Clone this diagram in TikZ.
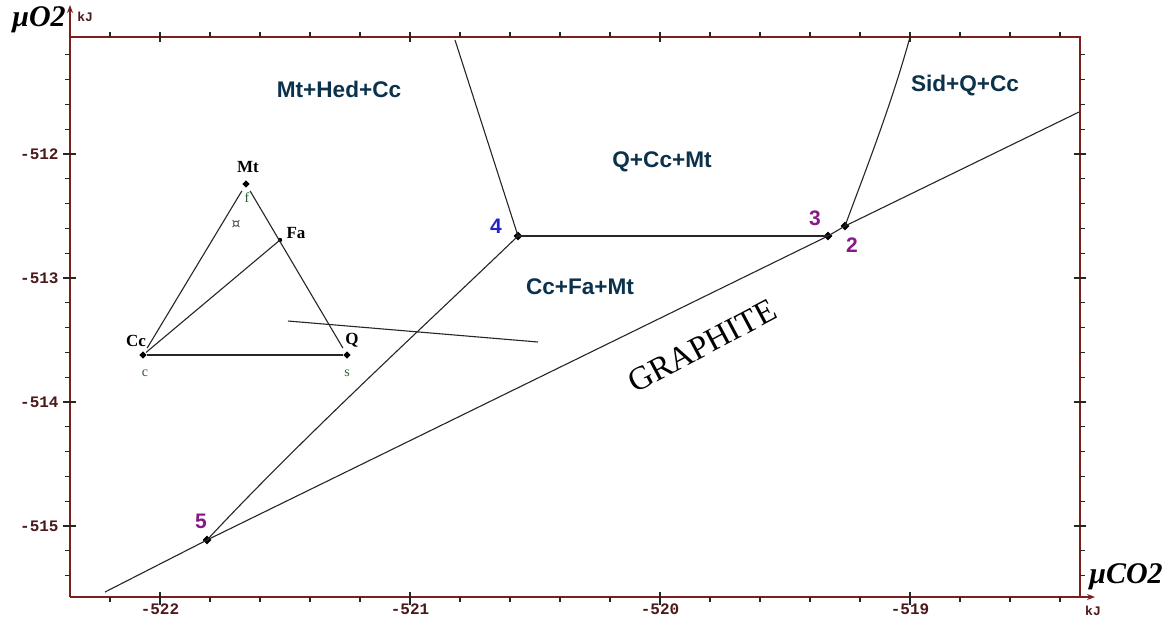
\documentclass[tikz,border=0pt]{standalone}
\usepackage{fontspec}
\setmainfont{Liberation Serif}
\setsansfont{Liberation Sans}
\setmonofont{Liberation Mono}
\newfontfamily\djv{DejaVu Sans}
\usetikzlibrary{shapes.geometric,arrows.meta}
\definecolor{axiscol}{RGB}{125,30,30}
\definecolor{ticklab}{RGB}{75,25,25}
\definecolor{regcol}{RGB}{12,50,75}
\definecolor{numpurple}{RGB}{135,25,135}
\definecolor{numblue}{RGB}{35,35,200}
\definecolor{vcol}{RGB}{40,95,50}
\tikzset{
  axisline/.style={draw=axiscol,line width=0.8pt},
  tickline/.style={draw=black!85,line width=0.6pt},
  ylab/.style={font=\ttfamily\bfseries\fontsize{8}{8}\selectfont,text=ticklab,anchor=east,inner sep=0pt},
  xlab/.style={font=\ttfamily\bfseries\fontsize{8}{8}\selectfont,text=ticklab,inner sep=0pt},
  unitlab/.style={font=\ttfamily\bfseries\fontsize{6.5}{6.5}\selectfont,text=ticklab,inner sep=0pt},
  axtitle/.style={font=\bfseries\itshape\fontsize{15}{15}\selectfont,inner sep=0pt},
  region/.style={font=\sffamily\bfseries\fontsize{11.3}{11.3}\selectfont,text=regcol,inner sep=0pt},
  ptnum/.style={font=\sffamily\bfseries\fontsize{10.5}{10.5}\selectfont,inner sep=0pt},
  phase/.style={draw=black!85,line width=0.55pt},
  pdot/.style={diamond,fill=black,inner sep=0pt,minimum size=4.5pt},
  idot/.style={diamond,fill=black,inner sep=0pt,minimum size=3.8pt},
  ilab/.style={font=\bfseries\fontsize{8.5}{8.5}\selectfont,inner sep=0pt},
  vlab/.style={font=\fontsize{7}{7}\selectfont,text=vcol,inner sep=0pt},
}
\begin{document}
\begin{tikzpicture}[x=0.5pt,y=-0.5pt]
\useasboundingbox (0,0) rectangle (1170,618);
\fill[white] (0,0) rectangle (1170,618);

% ---- axes frame
\draw[axisline,-{Stealth[length=4pt,width=3pt]}] (70,597) -- (1095,597);
\draw[axisline,-{Stealth[length=4pt,width=3pt]}] (70,597) -- (70,5);
\draw[axisline] (70,37) -- (1080,37) -- (1080,597);

% ---- ticks x
\foreach \x in {110,160,...,1060} {
  \draw[tickline] (\x,597) -- (\x,602);
  \draw[tickline] (\x,37) -- (\x,32);
}
\foreach \x in {160,410,660,910} {
  \draw[tickline,line width=0.9pt] (\x,592) -- (\x,605);
  \draw[tickline,line width=0.9pt] (\x,32) -- (\x,42);
}
% ---- ticks y
\foreach \k in {0,...,21} {
  \pgfmathsetmacro\yy{54.8+24.8*\k}
  \draw[tickline] (65,\yy) -- (70,\yy);
  \draw[tickline] (1080,\yy) -- (1085,\yy);
}
\foreach \yy in {154,278,402,526} {
  \draw[tickline,line width=0.9pt] (63,\yy) -- (76,\yy);
  \draw[tickline,line width=0.9pt] (1074,\yy) -- (1086,\yy);
}

% ---- tick labels
\node[ylab] (ly1) at (59,154) {-512};
\node[ylab] (ly2) at (59,278) {-513};
\node[ylab] (ly3) at (59,402) {-514};
\node[ylab] (ly4) at (59,526) {-515};
\node[xlab] (lx1) at (160,609) {-522};
\node[xlab] (lx2) at (410,609) {-521};
\node[xlab] (lx3) at (660,609) {-520};
\node[xlab] (lx4) at (910,609) {-519};
\node[unitlab,anchor=west] (kjy) at (77,17) {kJ};
\node[unitlab] (kjx) at (1093,611) {kJ};
\node[axtitle] (muo) at (39,20) {μO2};
\node[axtitle] (muco) at (1126,577) {μCO2};

% ---- invariant points
\node[pdot] (p5) at (207,540) {};
\node[pdot] (p4) at (518,236) {};
\node[pdot] (p3) at (828,236) {};
\node[pdot] (p2) at (845,226) {};
\coordinate (g1) at (105,592);
\coordinate (g2) at (1079,112);
\coordinate (t4) at (455,40);
\coordinate (t2) at (910,37);
\coordinate (s1) at (288,321);
\coordinate (s2) at (538,342);

% ---- phase lines
\draw[phase] (g1) -- (p5.center) -- (p3.center) -- (p2.center) -- (g2);
\draw[phase] (p5.center) .. controls (300,440) and (420,330) .. (p4.center);
\draw[phase] (p4.center) -- (p3.center);
\draw[phase] (p4.center) -- (t4);
\draw[phase] (p2.center) .. controls (858,190) and (890,110) .. (t2);
\draw[phase] (s1) -- (s2);

% ---- point numbers
\node[ptnum,text=numblue] (n4) at (496,226) {4};
\node[ptnum,text=numpurple] (n3) at (815,218) {3};
\node[ptnum,text=numpurple] (n2) at (852,245) {2};
\node[ptnum,text=numpurple] (n5) at (201,521) {5};

% ---- region labels
\node[region] (r1) at (339,89) {Mt+Hed+Cc};
\node[region] (r2) at (662,162) {Q+Cc+Mt};
\node[region] (r3) at (965,86) {Sid+Q+Cc};
\node[region] (r4) at (580,287) {Cc+Fa+Mt};
\node[font=\fontsize{16.5}{16.5}\selectfont,rotate=28,inner sep=0pt] (gr) at (702,346) {GRAPHITE};

% ---- composition triangle inset
\node[idot] (mt) at (246,184) {};
\node[circle,fill=black,inner sep=0pt,minimum size=2.2pt] (fa) at (280,240) {};
\node[idot] (cc) at (143,355) {};
\node[idot] (q) at (347,355) {};
\draw[phase,line width=0.8pt] (cc) -- (q);
\draw[phase,shorten <=4pt,shorten >=4pt] (cc.center) -- (mt.center);
\draw[phase,shorten <=4pt,shorten >=4pt] (mt.center) -- (q.center);
\draw[phase,shorten <=2pt] (cc.center) -- (fa.center);
\node[ilab] (lmt) at (248,167) {Mt};
\node[ilab] (lfa) at (296,233) {Fa};
\node[ilab] (lcc) at (136,341) {Cc};
\node[ilab] (lq) at (352,340) {Q};
\node[vlab] (vf) at (247,198) {f};
\node[vlab] (vc) at (145,373) {c};
\node[vlab] (vs) at (347,373) {s};
\node[font=\djv\fontsize{7}{7}\selectfont,text=black!70,inner sep=0pt] (sym) at (236,224) {¤};
\end{tikzpicture}
\end{document}
